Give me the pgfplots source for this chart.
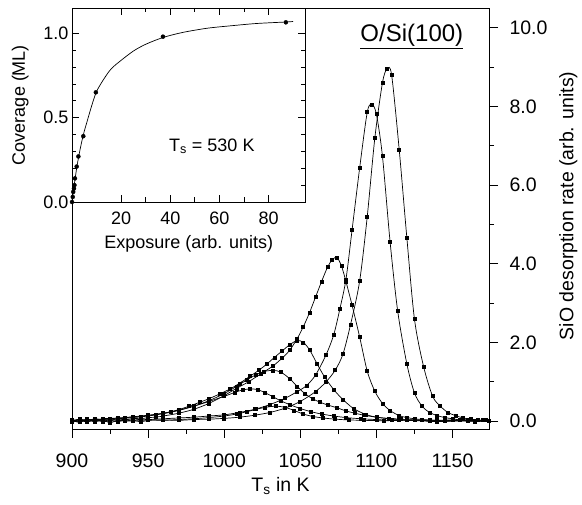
\documentclass[border=0pt]{standalone}
\usepackage{fontspec}
\setmainfont{Liberation Sans}
\usepackage{pgfplots}
\pgfplotsset{compat=1.18}
\pgfplotsset{tpd/.style={black, line width=0.7pt, smooth, mark=square*, mark size=1.5pt, mark options={solid, fill=black}}}
\begin{document}
\begin{tikzpicture}
\begin{axis}[name=main,
  scale only axis, width=417pt, height=421pt,
  xmin=900, xmax=1174, ymin=-0.2, ymax=10.5,
  /pgf/number format/assume math mode=true,
  xtick={900,950,1000,1050,1100,1150}, minor x tick num=1,
  ytick={0,2,4,6,8,10}, minor y tick num=1,
  xtick pos=left, ytick pos=right, yticklabel pos=right,
  tick align=outside, major tick length=9pt, minor tick length=5pt,
  yticklabel style={/pgf/number format/.cd, fixed, fixed zerofill, precision=1, /tikz/.cd, xshift=8pt},
  xticklabel style={/pgf/number format/.cd, fixed, 1000 sep={}, /tikz/.cd, yshift=-12pt},
  tick label style={font=\fontsize{19.5}{22}\selectfont},
  label style={font=\fontsize{19.5}{22}\selectfont},
  xlabel={T\textsubscript{s} in K},
  xlabel style={at={(axis description cs:0.5,-0.135)}, anchor=center},
  ylabel={SiO desorption rate (arb. units)},
  ylabel style={at={(axis description cs:1.19,0.53)}, anchor=center},
  axis line style={line width=0.8pt}, every tick/.style={black, line width=0.8pt},
]
% A
\addplot[tpd] coordinates {(900,0.02)(905,-0.03)(910,0.04)(915,-0.02)(920,0.03)(925,-0.04)(930,0.02)(935,0.0)(940,0.03)(945,-0.02)(950,0.02)(960,0.03)(970,0.02)(980,0.04)(990,0.05)(1000,0.07)(1010,0.1)(1020,0.15)(1030,0.22)(1040,0.33)(1050,0.5)(1060,0.75)(1067,1.0)(1073,1.3)(1078,1.7)(1083,2.45)(1089,3.56)(1094,5.2)(1099,7.2)(1104,8.6)(1107,8.95)(1110,8.8)(1115,6.9)(1120,4.67)(1125,2.6)(1131,1.39)(1137,0.63)(1142,0.38)(1147,0.22)(1152,0.14)(1157,0.08)(1162,0.05)(1167,0.02)(1172,0.03)};
% B
\addplot[tpd] coordinates {(900,-0.02)(905,0.03)(910,-0.01)(915,0.04)(920,0.0)(925,0.03)(930,-0.02)(935,0.04)(940,0.02)(945,0.05)(950,0.04)(960,0.06)(970,0.08)(980,0.1)(990,0.13)(1000,0.16)(1010,0.22)(1020,0.3)(1030,0.42)(1040,0.58)(1048,0.75)(1054,0.9)(1060,1.17)(1067,1.69)(1072,2.2)(1076,2.85)(1080,3.6)(1084,4.85)(1089,6.43)(1094,7.85)(1097,8.05)(1100,7.8)(1104,6.73)(1109,4.56)(1114,2.8)(1120,1.46)(1125,0.72)(1130,0.38)(1135,0.22)(1140,0.14)(1145,0.09)(1150,0.06)(1155,0.03)(1160,0.04)(1165,0.01)(1170,0.03)(1174,0.0)};
% C
\addplot[tpd] coordinates {(900,0.03)(905,-0.02)(910,0.05)(915,0.0)(920,0.04)(925,0.02)(930,0.06)(935,0.03)(940,0.07)(945,0.06)(950,0.09)(955,0.1)(960,0.13)(970,0.2)(980,0.3)(990,0.45)(1000,0.65)(1008,0.83)(1016,1.0)(1024,1.2)(1032,1.4)(1038,1.6)(1043,1.8)(1048,2.1)(1052,2.4)(1056,2.75)(1060,3.15)(1064,3.55)(1068,3.92)(1071,4.1)(1074,4.16)(1077,3.95)(1080,3.55)(1084,2.95)(1089,2.14)(1094,1.27)(1099,0.76)(1104,0.45)(1109,0.27)(1115,0.14)(1120,0.09)(1125,0.06)(1130,0.04)(1140,0.02)(1150,0.03)(1160,0.01)(1170,0.02)};
% D
\addplot[tpd] coordinates {(900,0.01)(905,0.05)(910,0.02)(915,0.06)(920,0.04)(925,0.07)(930,0.06)(935,0.09)(940,0.1)(945,0.12)(950,0.14)(955,0.17)(960,0.2)(965,0.24)(970,0.29)(977,0.38)(984,0.48)(990,0.57)(997,0.69)(1004,0.82)(1010,0.96)(1017,1.14)(1023,1.3)(1028,1.45)(1033,1.62)(1038,1.78)(1043,1.94)(1048,2.05)(1052,2.0)(1056,1.82)(1061,1.46)(1066,1.12)(1072,0.8)(1078,0.55)(1085,0.32)(1093,0.17)(1100,0.1)(1108,0.06)(1115,0.04)(1125,0.02)(1135,0.03)(1145,0.0)(1155,0.02)(1165,-0.01)(1174,0.01)};
% E
\addplot[tpd] coordinates {(900,0.0)(905,0.04)(910,0.01)(915,0.05)(920,0.03)(930,0.06)(940,0.09)(950,0.13)(960,0.19)(970,0.27)(980,0.38)(990,0.52)(1000,0.7)(1008,0.88)(1015,1.05)(1021,1.18)(1026,1.26)(1032,1.29)(1037,1.25)(1043,1.08)(1048,0.88)(1053,0.7)(1058,0.57)(1063,0.48)(1068,0.41)(1074,0.34)(1080,0.26)(1086,0.2)(1092,0.15)(1100,0.1)(1108,0.07)(1116,0.05)(1125,0.03)(1135,0.01)(1145,0.02)(1160,0.0)(1174,0.01)};
% F
\addplot[tpd] coordinates {(900,0.04)(905,0.0)(910,0.05)(915,0.02)(920,0.06)(930,0.08)(940,0.11)(950,0.15)(960,0.2)(970,0.28)(980,0.38)(990,0.5)(1000,0.63)(1007,0.73)(1012,0.79)(1017,0.82)(1022,0.8)(1027,0.72)(1032,0.62)(1037,0.52)(1043,0.42)(1050,0.32)(1057,0.24)(1064,0.18)(1072,0.13)(1080,0.09)(1090,0.06)(1100,0.04)(1110,0.02)(1125,0.03)(1140,0.0)(1160,0.02)(1174,0.0)};
% G
\addplot[tpd] coordinates {(900,-0.03)(905,0.01)(910,-0.02)(915,0.02)(920,-0.01)(930,0.01)(940,0.0)(950,0.03)(960,0.02)(970,0.04)(980,0.06)(990,0.09)(1000,0.13)(1008,0.18)(1015,0.24)(1021,0.3)(1027,0.35)(1034,0.38)(1040,0.35)(1046,0.27)(1052,0.18)(1058,0.12)(1065,0.08)(1073,0.05)(1082,0.03)(1092,0.02)(1105,0.01)(1120,0.02)(1140,-0.01)(1160,0.01)(1174,0.0)};
\node[anchor=base, font=\fontsize{24}{26}\selectfont] at (axis cs:1123.3,9.66) {O/Si(100)};
\draw[line width=1.1pt] (axis cs:1089.5,9.47) -- (axis cs:1157,9.47);
\end{axis}
\begin{axis}[name=inset, at={(main.north west)}, anchor=north west,
  scale only axis, width=233.5pt, height=194pt,
  xmin=0, xmax=95, ymin=0, ymax=1.15,
  axis background/.style={fill=white},
  /pgf/number format/assume math mode=true,
  xtick={20,40,60,80}, minor x tick num=1,
  ytick={0,0.5,1}, minor y tick num=4,
  tick align=inside, major tick length=7pt, minor tick length=4.5pt,
  yticklabel style={/pgf/number format/.cd, fixed, fixed zerofill, precision=1},
  xticklabel style={yshift=-6pt},
  tick label style={font=\fontsize{18}{20}\selectfont},
  label style={font=\fontsize{18}{20}\selectfont},
  xlabel={Exposure (arb. units)},
  xlabel style={at={(axis description cs:0.5,-0.215)}, anchor=center},
  ylabel={Coverage (ML)},
  ylabel style={at={(axis description cs:-0.222,0.5)}, anchor=center},
  axis line style={line width=0.8pt}, every tick/.style={black, line width=0.8pt},
  clip=false,
]
\addplot[black, line width=0.7pt, smooth, no marks] coordinates {(0,0)(1,0.11)(2,0.21)(3,0.29)(4,0.36)(5,0.42)(6,0.47)(8,0.57)(10,0.655)(13,0.73)(16,0.79)(20,0.84)(25,0.895)(30,0.935)(37,0.975)(45,1.005)(55,1.03)(65,1.045)(75,1.058)(87,1.067)(90,1.07)};
\addplot[black, only marks, mark=*, mark size=2pt] coordinates {(0,0)(0.3,0.03)(0.5,0.06)(0.8,0.08)(1.0,0.1)(1.2,0.14)(1.9,0.21)(2.6,0.27)(4.6,0.39)(9.7,0.65)(37,0.98)(87,1.065)};
\node[anchor=center, font=\fontsize{18}{20}\selectfont] at (axis cs:56.9,0.33) {T\textsubscript{s} = 530 K};
\end{axis}
\path (main.south west) ++(-72pt,-76pt) rectangle ++(582pt,505pt);
\end{tikzpicture}
\end{document}
